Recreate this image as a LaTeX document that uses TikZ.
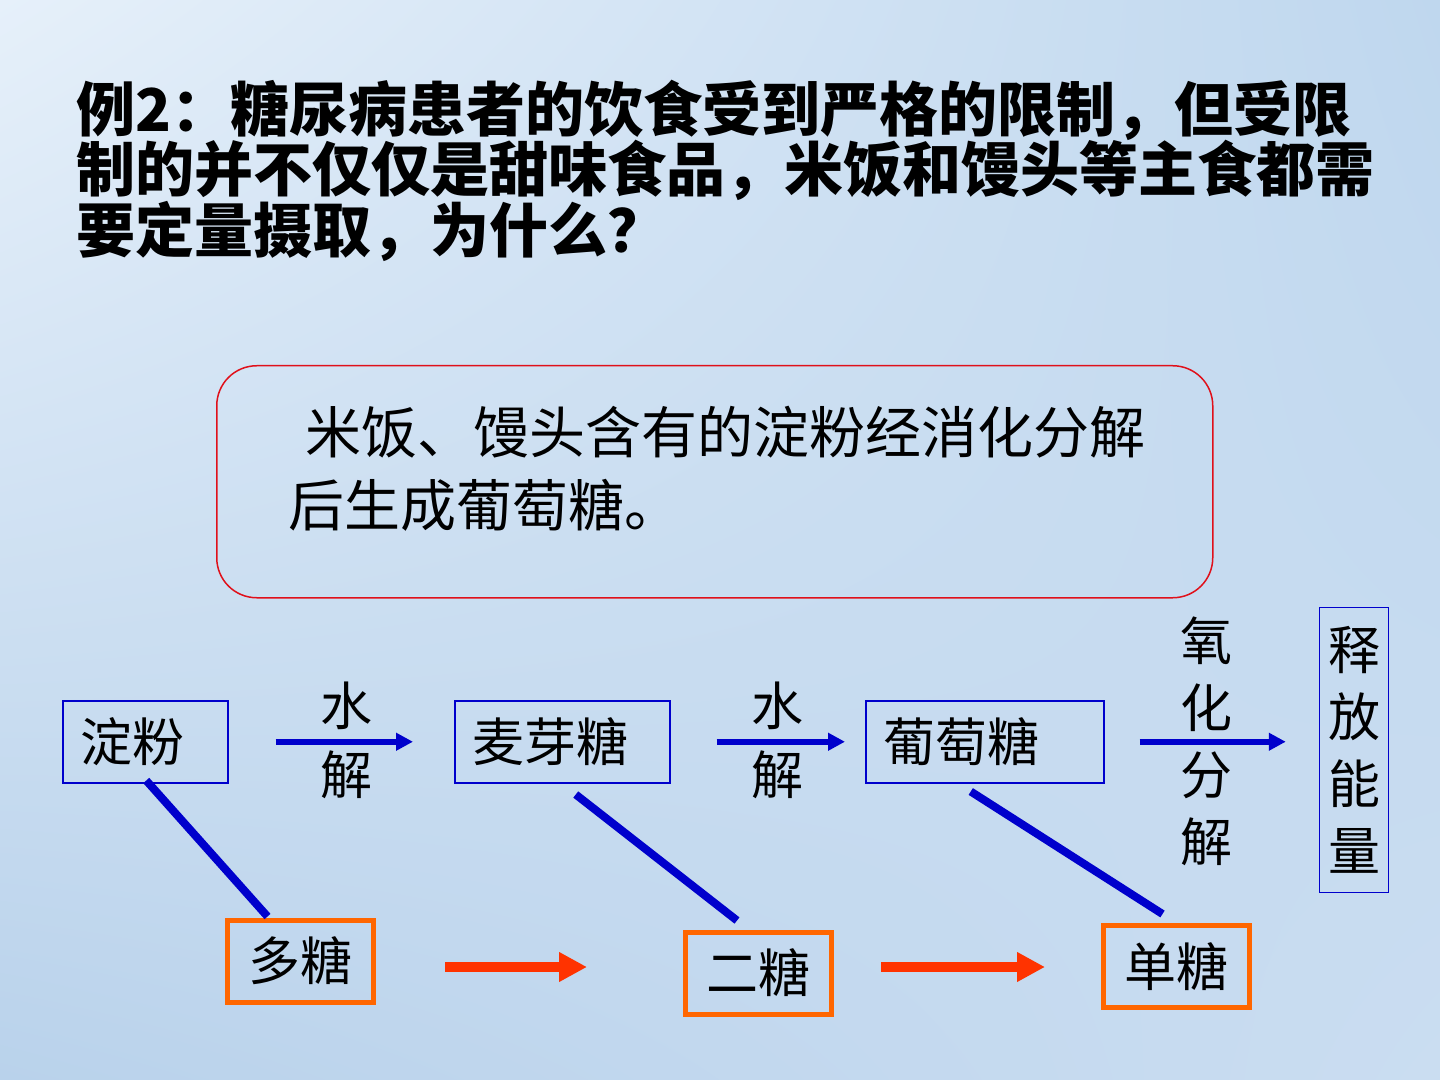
\documentclass[tikz,border=0pt]{standalone}
\usepackage{fontspec}
\setmainfont{Noto Sans CJK SC}
\usetikzlibrary{arrows.meta,calc,shadings}
\definecolor{bgUL}{HTML}{E6F0FA}
\definecolor{bgUR}{HTML}{BFD7EE}
\definecolor{bgLL}{HTML}{B9D2EB}
\definecolor{bgLR}{HTML}{CADDF1}
\definecolor{myblue}{HTML}{0000CC}
\definecolor{boxred}{HTML}{E0101A}
\definecolor{arrred}{HTML}{FF3300}
\definecolor{myorange}{HTML}{FF6600}
\tikzset{
  titletext/.style={anchor=west,inner sep=0pt,font=\bfseries\fontsize{29.5pt}{36pt}\selectfont},
  bodytext/.style={anchor=west,inner sep=0pt,font=\fontsize{28pt}{34pt}\selectfont},
  bluebox/.style={draw=myblue,line width=0.75pt,anchor=north west,minimum height=41pt,inner ysep=0pt,inner xsep=9pt,align=left,font=\fontsize{26pt}{32pt}\selectfont},
  orangebox/.style={draw=myorange,line width=2.5pt,minimum width=73pt,minimum height=41pt,inner sep=0pt,font=\fontsize{26pt}{32pt}\selectfont},
  lbl/.style={inner sep=0pt,font=\fontsize{26pt}{33.5pt}\selectfont,align=center},
  bluearrow/.style={draw=myblue,line width=3pt,-{Triangle[length=8.5pt,width=8.5pt]}},
  redarrow/.style={draw=arrred,line width=5pt,-{Triangle[length=14pt,width=14pt]}},
  blueline/.style={draw=myblue,line width=4pt}
}
\begin{document}
\begin{tikzpicture}[x=0.5pt,y=-0.5pt]
\useasboundingbox (0,0) rectangle (1440,1080);
\shade[upper left=bgUL,upper right=bgUR,lower left=bgLL,lower right=bgLR] (0,0) rectangle (1440,1080);

% title
\node[titletext] (t1) at (76,110) {例2：糖尿病患者的饮食受到严格的限制，但受限};
\node[titletext] (t2) at (76,170) {制的并不仅仅是甜味食品，米饭和馒头等主食都需};
\node[titletext] (t3) at (76,231) {要定量摄取，为什么？};

% rounded answer box
\node[draw=boxred,line width=0.75pt,rounded corners=20pt,minimum width=498pt,minimum height=116pt,anchor=north west,inner sep=0pt] (ans) at (216,365) {};
\node[bodytext] (a1) at (305,432) {米饭、馒头含有的淀粉经消化分解};
\node[bodytext] (a2) at (288,505) {后生成葡萄糖。};

% top row
\node[bluebox,text width=64.5pt] (dianfen) at (62,700) {淀粉};
\node[bluebox,text width=89.5pt] (maiya) at (454,700) {麦芽糖};
\node[bluebox,text width=101pt] (putao) at (865,700) {葡萄糖};
\node[draw=myblue,line width=0.75pt,minimum width=34.5pt,minimum height=142.5pt,inner sep=0pt,lbl,anchor=center] (shifang) at (1354,750) {释\\放\\能\\量};

\node[lbl] (s1) at (346,706) {水};
\node[lbl] (j1) at (346,775) {解};
\node[lbl] (s2) at (777,706) {水};
\node[lbl] (j2) at (777,775) {解};
\node[lbl] (yh) at (1206,741) {氧\\化\\分\\解};

\draw[bluearrow] ($(dianfen.east)+(47,0)$) -- ($(maiya.west)+(-41,0)$);
\draw[bluearrow] ($(maiya.east)+(46,0)$) -- ($(putao.west)+(-20,0)$);
\draw[bluearrow] ($(putao.east)+(35,0)$) -- ($(putao.east -| shifang.west)+(-33,0)$);

% bottom row
\node[orangebox] (duotang) at (300.5,961) {多糖};
\node[orangebox] (ertang) at (758.5,973) {二糖};
\node[orangebox] (dantang) at (1176.5,966.5) {单糖};

\draw[blueline] ($(dianfen.south)+(1,-3)$) -- ($(duotang.north)+(-33,-1)$);
\draw[blueline] ($(maiya.south)+(13.5,11)$) -- ($(ertang.north)+(-21.5,-9)$);
\draw[blueline] ($(putao.south)+(-14,8)$) -- ($(dantang.north)+(-14,-9)$);

\draw[redarrow] ($(duotang.east)+(69,6)$) -- ($(ertang.west)+(-96,-6)$);
\draw[redarrow] ($(ertang.east)+(47,-6)$) -- ($(dantang.west)+(-56,0.5)$);
\end{tikzpicture}
\end{document}
